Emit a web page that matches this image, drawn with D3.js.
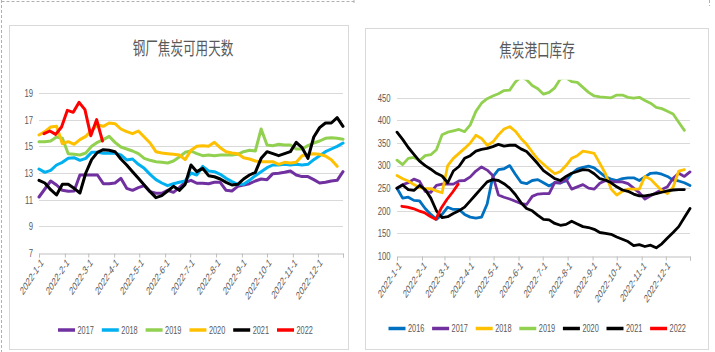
<!DOCTYPE html>
<html><head><meta charset="utf-8">
<script src="https://cdn.jsdelivr.net/npm/d3@7"></script>
<style>
html,body{margin:0;padding:0;background:#fff;}
svg{display:block;}
text{font-family:"Liberation Sans","Noto Sans CJK SC",sans-serif;fill:#595959;}
</style>
</head><body>
<svg id="c" width="715" height="352"></svg>
<script>
// ---------- shared categories ----------
const tickLabels = ["2022-1-1","2022-2-1","2022-3-1","2022-4-1","2022-5-1","2022-6-1","2022-7-1","2022-8-1","2022-9-1","2022-10-1","2022-11-1","2022-12-1"];
const dates2022 = ["2022-01-07","2022-01-14","2022-01-21","2022-01-28","2022-02-04","2022-02-11","2022-02-18","2022-02-25","2022-03-04","2022-03-11","2022-03-18"];

// ---------- left chart: 钢厂焦炭可用天数 ----------
const leftTitle = "钢厂焦炭可用天数";
const leftYears = ["2017","2018","2019","2020","2021","2022"];
const leftYTicks = [7,9,11,13,15,17,19];
const left2017 = [11.2,11.8,12.4,12.1,11.7,11.63,11.65,12.85,12.85,12.85,12.85,12.2,12.2,12.25,12.6,11.85,11.7,11.9,12.05,11.6,11.48,11.48,11.7,11.55,11.9,12.3,12.45,12.23,12.23,12.2,12.3,12.3,11.7,11.65,12.0,12.1,12.2,12.4,12.55,12.5,12.95,12.98,13.05,13.15,12.85,12.73,12.73,12.5,12.25,12.3,12.4,12.45,13.1];
const left2018 = [13.3,13.05,13.2,13.6,13.8,14.1,14.15,13.95,14.1,14.55,14.55,14.48,14.48,14.48,14.35,13.98,14.05,13.65,13.35,12.9,12.5,12.25,12.05,12.2,12.3,12.4,13.0,12.85,13.5,13.15,13.1,12.9,12.6,12.35,12.15,12.15,12.45,12.8,13.1,13.4,13.6,13.6,13.65,13.6,13.65,13.6,13.65,14.0,14.3,14.6,14.8,15.0,15.25];
const left2019 = [15.35,15.35,15.4,15.7,15.6,14.45,14.4,14.35,14.5,15.0,15.3,15.5,15.75,15.3,14.95,14.8,14.65,14.45,14.1,13.95,13.85,13.8,13.75,13.9,14.2,14.55,14.65,14.45,14.3,14.35,14.3,14.35,14.35,14.35,14.4,14.6,14.7,14.65,16.3,15.1,15.05,15.15,15.1,15.1,14.8,14.8,15.05,15.25,15.4,15.6,15.65,15.6,15.53];
const left2020 = [15.85,16.1,16.45,16.5,15.2,15.35,15.15,15.5,15.75,16.2,16.6,16.5,16.75,16.7,16.3,16.1,15.95,16.15,15.7,15.25,14.6,14.5,14.45,14.4,14.35,14.0,14.7,15.0,15.05,15.0,15.3,14.9,14.6,14.5,14.45,14.15,14.05,13.9,13.85,13.85,13.85,13.65,13.8,13.75,13.8,14.3,14.4,14.45,14.4,14.28,14.0,13.5];
const left2021 = [12.45,12.25,11.75,11.35,12.15,12.15,11.85,11.5,13.0,14.0,14.55,14.75,14.7,14.6,14.05,13.6,13.1,12.6,12.1,11.6,11.15,11.3,11.65,12.0,11.7,12.15,13.6,13.1,13.35,12.8,12.72,12.55,12.3,12.1,12.15,12.55,12.85,13.05,14.1,14.6,14.45,14.3,14.45,14.6,15.3,14.9,14.1,15.7,16.4,16.75,16.75,17.15,16.5];
const left2022 = [15.95,16.15,15.9,16.45,17.7,17.55,18.3,17.75,15.8,17.0,15.4];
const leftColors = ["#7030A0","#00B0F0","#92D050","#FFC000","#000000","#FF0000"];

// ---------- right chart: 焦炭港口库存 ----------
const rightTitle = "焦炭港口库存";
const rightYears = ["2016","2017","2018","2019","2020","2021","2022"];
const rightYTicks = [100,150,200,250,300,350,400,450];
const right2016 = [250,228,230,223,222,205,192,181,192,208,203,203,192,186,184,186,215,275,291,293,300,281,263,260,267,269,262,255,262,262,266,282,292,296,299,295,285,275,270,267,271,273,273,267,275,283,284,281,276,268,266,262,256];
const right2017 = [250,258,262,270,265,243,241,256,259,259,259,266,267,275,288,297,290,278,235,230,226,221,216,214,232,237,238,238,263,261,270,248,253,258,250,248,261,267,265,264,264,260,250,240,226,233,240,247,253,272,283,276,286];
const right2018 = [278,271,266,258,251,249,249,244,240,300,316,327,338,350,367,360,345,352,368,381,386,376,360,347,330,314,303,292,282,287,300,316,322,332,330,327,305,282,248,235,243,248,248,248,276,270,257,245,238,252,288,291];
const right2019 = [312,302,316,318,311,322,324,335,368,374,377,380,375,390,420,438,448,454,459,466,467,485,496,490,477,470,458,462,472,492,494,486,484,473,462,454,452,451,450,456,456,451,449,451,444,438,429,426,420,414,396,378];
const right2020 = [374,358,340,325,310,300,292,283,277,262,288,298,316,322,332,336,338,342,347,343,345,345,337,331,318,304,289,280,271,267,276,283,287,291,290,282,271,268,262,253,246,243,237,233,233,235,238,241,244,246,247,247];
const right2021 = [250,257,247,245,256,247,228,200,185,187,194,200,208,222,236,250,264,269,267,260,250,236,218,205,200,190,181,180,172,168,170,177,171,165,163,159,152,150,148,142,137,132,123,125,121,124,118,127,140,152,165,185,205];
const right2022 = [210,208,205,200,196,188,181,206,225,241,259];
const rightColors = ["#0070C0","#7030A0","#FFC000","#92D050","#000000","#000000","#FF0000"];

// ---------- helpers ----------
const parse = d3.timeParse("%Y-%m-%d");
const jan1 = new Date(2022,0,1), dec31 = new Date(2022,11,31);
const weekly = vals => vals.map((v,i) => ({d: d3.timeDay.offset(jan1, 7*i), v}));
const dated = (ds, vals) => vals.map((v,i) => ({d: parse(ds[i]), v}));
const SX = 0.7;
const svg = d3.select("#c");

// outer dashed frame pieces
const fr = svg.append("g").attr("stroke","#b0b0b0").attr("stroke-dasharray","3,2").attr("fill","none");
fr.append("line").attr("x1",1.5).attr("x2",1.5).attr("y1",0).attr("y2",352);
fr.append("line").attr("x1",1.5).attr("x2",354).attr("y1",1.5).attr("y2",1.5);
fr.append("line").attr("x1",354).attr("x2",354).attr("y1",0).attr("y2",5);
fr.append("line").attr("x1",709.5).attr("x2",709.5).attr("y1",0).attr("y2",6);

function drawChart(cfg){
  const g = svg.append("g");
  g.append("rect").attr("x",cfg.box[0]+0.5).attr("y",cfg.box[1]+0.5)
    .attr("width",cfg.box[2]).attr("height",cfg.box[3])
    .attr("fill","#fff").attr("stroke","#d9d9d9");
  g.append("text").attr("transform",`translate(${cfg.titleX},${cfg.titleY}) scale(${SX},1)`)
    .attr("text-anchor","middle").attr("font-size",18).text(cfg.title);

  const x = d3.scaleTime().domain([jan1, dec31]).range(cfg.xr);
  const y = d3.scaleLinear().domain(cfg.yd).range(cfg.yr);

  // gridlines
  g.append("g").selectAll("line").data(cfg.yticks.slice(1)).join("line")
    .attr("x1",cfg.xr[0]).attr("x2",cfg.xr[1])
    .attr("y1",d=>Math.round(y(d))+0.5).attr("y2",d=>Math.round(y(d))+0.5)
    .attr("stroke","#d9d9d9").attr("stroke-width",1);
  // y labels
  g.append("g").selectAll("text").data(cfg.yticks).join("text")
    .attr("transform",d=>`translate(${cfg.yLabelX},${y(d)}) scale(${SX},1)`)
    .attr("text-anchor","end").attr("dy","0.35em").attr("font-size",11).text(d=>d);

  // x axis
  const axisY = Math.round(y(cfg.yd[0]))+0.5;
  const xAxis = d3.axisBottom(x)
    .tickValues(tickLabels.map((t,i)=>new Date(2022,i,1)).concat([dec31]))
    .tickSize(4).tickFormat(()=> "");
  const ax = g.append("g").attr("transform",`translate(0,${axisY})`).call(xAxis);
  ax.select(".domain").attr("stroke","#bfbfbf");
  ax.selectAll(".tick line").attr("stroke","#bfbfbf");
  g.append("g").selectAll("text").data(tickLabels).join("text")
    .attr("transform",(t,i)=>`translate(${x(new Date(2022,i,1))+3},${axisY+7}) scale(0.64,1) rotate(-45)`)
    .attr("text-anchor","end").attr("dy","0.35em").attr("font-size",11.5).text(t=>t);

  // clip
  const cid = "clip"+cfg.id;
  svg.append("clipPath").attr("id",cid).append("rect")
    .attr("x",cfg.xr[0]-3).attr("y",cfg.yr[1]).attr("width",cfg.xr[1]-cfg.xr[0]+6).attr("height",cfg.yr[0]-cfg.yr[1]+3);
  const line = d3.line().x(p=>x(p.d)).y(p=>y(p.v));
  const lg = g.append("g").attr("clip-path",`url(#${cid})`);
  cfg.series.forEach((s,i)=>{
    lg.append("path").datum(s).attr("d",line).attr("fill","none")
      .attr("stroke",cfg.colors[i]).attr("stroke-width",cfg.lw)
      .attr("stroke-linejoin","round").attr("stroke-linecap","round");
  });

  // legend
  const leg = g.append("g");
  cfg.years.forEach((yr,i)=>{
    const lx = cfg.legX + i*cfg.legStep;
    leg.append("line").attr("x1",lx).attr("x2",lx+17).attr("y1",cfg.legY).attr("y2",cfg.legY)
      .attr("stroke",cfg.colors[i]).attr("stroke-width",3.5);
    leg.append("text").attr("transform",`translate(${lx+19.5},${cfg.legY}) scale(${SX},1)`)
      .attr("dy","0.35em").attr("font-size",10.5).text(yr);
  });
}

drawChart({
  id:"L", box:[9,25,339,324], title:leftTitle, titleX:183, titleY:55,
  xr:[39,343], yd:[7,19], yr:[253,93], yticks:leftYTicks, yLabelX:33,
  series:[weekly(left2017),weekly(left2018),weekly(left2019),weekly(left2020),weekly(left2021),dated(dates2022,left2022)],
  colors:leftColors, years:leftYears, lw:3, legX:58, legStep:43.8, legY:330
});
drawChart({
  id:"R", box:[365,28,343,321], title:rightTitle, titleX:537, titleY:57,
  xr:[397,690], yd:[100,490], yr:[256,79.7], yticks:rightYTicks, yLabelX:390.5,
  series:[weekly(right2016),weekly(right2017),weekly(right2018),weekly(right2019),weekly(right2020),weekly(right2021),dated(dates2022,right2022)],
  colors:rightColors, years:rightYears, lw:2.8, legX:388.5, legStep:43.6, legY:328.5
});
</script>
</body></html>
